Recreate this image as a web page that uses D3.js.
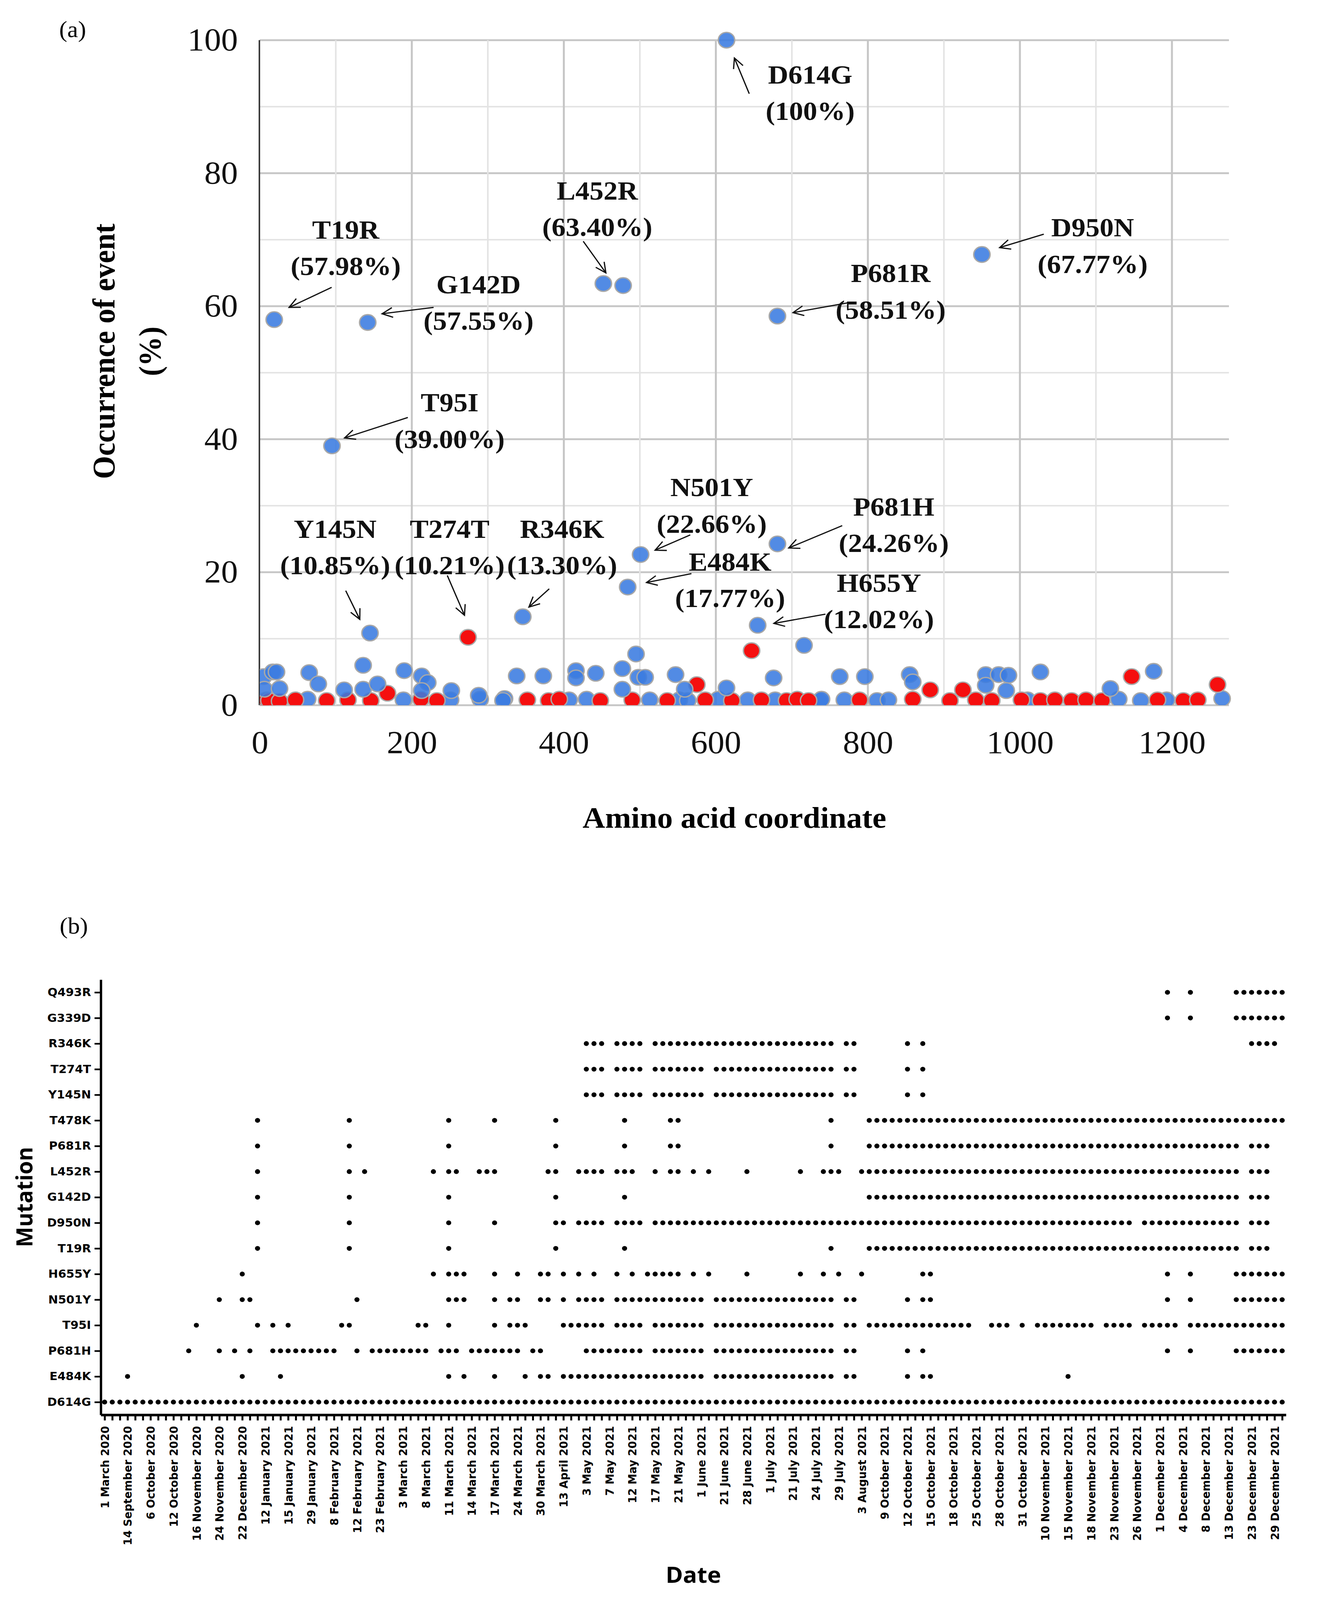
<!DOCTYPE html>
<html><head><meta charset="utf-8">
<script src="https://cdn.jsdelivr.net/npm/d3@7"></script>
<style>html,body{margin:0;padding:0;background:#fff;overflow:hidden}svg{display:block}</style>
</head><body>
<svg id="c" xmlns="http://www.w3.org/2000/svg"></svg>
<script>
// ================= Panel (a) data =================
const annNames = ["T19R","T95I","G142D","Y145N","T274T","R346K","L452R","E484K","N501Y","D614G","H655Y","P681R","P681H","D950N"];
const annPos   = [19, 95, 142, 145, 274, 346, 452, 484, 501, 614, 655, 681, 681, 950];
const annPct   = [57.98, 39.00, 57.55, 10.85, 10.21, 13.30, 63.40, 17.77, 22.66, 100, 12.02, 58.51, 24.26, 67.77];
const annSeries= ["blue","blue","blue","blue","red","blue","blue","blue","blue","blue","blue","blue","blue","blue"];
const annText2 = ["(57.98%)","(39.00%)","(57.55%)","(10.85%)","(10.21%)","(13.30%)","(63.40%)","(17.77%)","(22.66%)","(100%)","(12.02%)","(58.51%)","(24.26%)","(67.77%)"];

// other blue mutations (position, occurrence %)
const bluePos = [478, 5, 6, 17, 22, 26, 65, 77, 111, 136, 136, 155, 190, 213, 221, 213, 252, 288, 322, 338, 373, 416, 416, 442, 477, 477, 495, 498, 507, 547, 559, 614, 676, 716, 763, 796, 855, 859, 955, 955, 972, 985, 982, 1027, 1119, 1176, 1266,
                 63, 189, 251, 290, 320, 407, 430, 513, 552, 563, 603, 642, 678, 737, 739, 769, 812, 827, 1010, 1130, 1159, 1193];
const blueVal = [63.1, 4.3, 2.4, 5.0, 5.0, 2.5, 4.9, 3.2, 2.3, 6.0, 2.4, 3.2, 5.2, 4.4, 3.4, 2.2, 2.2, 1.5, 1.0, 4.4, 4.4, 5.2, 4.1, 4.8, 5.5, 2.4, 7.7, 4.2, 4.2, 4.6, 2.4, 2.6, 4.1, 9.0, 4.3, 4.3, 4.6, 3.5, 4.6, 3.0, 4.6, 4.5, 2.2, 5.0, 2.5, 5.1, 1.0,
                 0.9, 0.8, 0.8, 0.9, 0.7, 0.8, 0.9, 0.8, 0.8, 0.7, 0.9, 0.8, 0.8, 0.7, 0.9, 0.8, 0.7, 0.8, 0.8, 0.9, 0.7, 0.8];
// red mutations (position, occurrence %)
const redPos = [168, 575, 647, 882, 925, 1147, 1260,
                3, 9, 12, 26, 47, 88, 116, 146, 212, 233, 352, 380, 394, 448, 490, 536, 586, 621, 660, 693, 707, 722, 789, 859, 908, 942, 963, 1002, 1027, 1046, 1068, 1087, 1108, 1181, 1215, 1234];
const redVal = [1.8, 3.1, 8.2, 2.3, 2.3, 4.3, 3.1,
                0.6, 0.8, 0.7, 0.6, 0.8, 0.7, 0.8, 0.7, 0.9, 0.7, 0.8, 0.7, 0.9, 0.7, 0.8, 0.7, 0.8, 0.7, 0.8, 0.7, 0.9, 0.7, 0.8, 0.9, 0.7, 0.8, 0.7, 0.8, 0.7, 0.8, 0.7, 0.8, 0.7, 0.8, 0.7, 0.8];

const xTicksA = [0, 200, 400, 600, 800, 1000, 1200];
const yTicksA = [0, 20, 40, 60, 80, 100];

// ================= Panel (b) data =================
const mutations = ["Q493R","G339D","R346K","T274T","Y145N","T478K","P681R","L452R","G142D","D950N","T19R","H655Y","N501Y","T95I","P681H","E484K","D614G"];
// runs of sampling-date columns (inclusive) where each mutation was observed
const presence = {
  "Q493R": [[139,139],[142,142],[148,154]],
  "G339D": [[139,139],[142,142],[148,154]],
  "R346K": [[63,65],[67,70],[72,95],[97,98],[105,105],[107,107],[150,153]],
  "T274T": [[63,65],[67,70],[72,78],[80,95],[97,98],[105,105],[107,107]],
  "Y145N": [[63,65],[67,70],[72,78],[80,95],[97,98],[105,105],[107,107]],
  "T478K": [[20,20],[32,32],[45,45],[51,51],[59,59],[68,68],[74,75],[95,95],[100,154]],
  "P681R": [[20,20],[32,32],[45,45],[59,59],[68,68],[74,75],[95,95],[100,148],[150,152]],
  "L452R": [[20,20],[32,32],[34,34],[43,43],[45,46],[49,51],[58,59],[62,65],[67,69],[72,72],[74,75],[77,77],[79,79],[84,84],[91,91],[94,96],[99,148],[150,152]],
  "G142D": [[20,20],[32,32],[45,45],[59,59],[68,68],[100,148],[150,152]],
  "D950N": [[20,20],[32,32],[45,45],[51,51],[59,60],[62,65],[67,70],[72,134],[136,148],[150,152]],
  "T19R":  [[20,20],[32,32],[45,45],[59,59],[68,68],[95,95],[100,148],[150,152]],
  "H655Y": [[18,18],[43,43],[45,47],[51,51],[54,54],[57,58],[60,60],[62,62],[64,64],[67,67],[69,69],[71,75],[77,77],[79,79],[84,84],[91,91],[94,94],[96,96],[99,99],[107,108],[139,139],[142,142],[148,154]],
  "N501Y": [[15,15],[18,19],[33,33],[45,47],[51,51],[53,54],[57,58],[60,60],[62,65],[67,78],[80,95],[97,98],[105,105],[107,108],[139,139],[142,142],[148,154]],
  "T95I":  [[12,12],[20,20],[22,22],[24,24],[31,32],[41,42],[45,45],[51,51],[53,55],[60,65],[67,70],[72,78],[80,95],[97,98],[100,113],[116,118],[120,120],[122,129],[131,134],[136,140],[142,154]],
  "P681H": [[11,11],[15,15],[17,17],[19,19],[22,30],[33,33],[35,42],[44,46],[48,54],[56,57],[63,70],[72,78],[80,95],[97,98],[105,105],[107,107],[139,139],[142,142],[148,154]],
  "E484K": [[3,3],[18,18],[23,23],[45,45],[47,47],[51,51],[55,55],[57,58],[60,78],[80,95],[97,98],[105,105],[107,108],[126,126]],
  "D614G": [[0,154]]
};
const nDates = 155;          // number of sampling-date columns
const labelEvery = 3;        // one date label every third column
const dateLabels = ["1 March 2020","14 September 2020","6 October 2020","12 October 2020","16 November 2020","24 November 2020","22 December 2020",
 "12 January 2021","15 January 2021","29 January 2021","8 February 2021","12 February 2021","23 February 2021","3 March 2021","8 March 2021",
 "11 March 2021","14 March 2021","17 March 2021","24 March 2021","30 March 2021","13 April 2021","3 May 2021","7 May 2021","12 May 2021",
 "17 May 2021","21 May 2021","1 June 2021","21 June 2021","28 June 2021","1 July 2021","21 July 2021","24 July 2021","29 July 2021",
 "3 August 2021","9 October 2021","12 October 2021","15 October 2021","18 October 2021","25 October 2021","28 October 2021","31 October 2021",
 "10 November 2021","15 November 2021","18 November 2021","23 November 2021","26 November 2021","1 December 2021","4 December 2021",
 "8 December 2021","13 December 2021","23 December 2021","29 December 2021"];

// ================= layout (pixels) =================
const W = 3397, H = 4304;
const annLayout = {
  "T19R":  {tx:885,  ty:617,  a:[849,773,740,827]},
  "T95I":  {tx:1151, ty:1082, a:[1044,1123,882,1178]},
  "G142D": {tx:1225, ty:764,  a:[1110,827,978,844]},
  "Y145N": {tx:858,  ty:1422, a:[885,1589,921,1666]},
  "T274T": {tx:1151, ty:1422, a:[1145,1548,1189,1655]},
  "R346K": {tx:1439, ty:1422, a:[1406,1584,1354,1633]},
  "L452R": {tx:1529, ty:512,  a:[1493,649,1551,734]},
  "E484K": {tx:1869, ty:1510, a:[1770,1543,1655,1567]},
  "N501Y": {tx:1822, ty:1310, a:[1767,1439,1677,1480]},
  "D614G": {tx:2074, ty:200,  a:[1918,252,1880,156]},
  "H655Y": {tx:2250, ty:1567, a:[2113,1652,1981,1677]},
  "P681R": {tx:2280, ty:734,  a:[2173,814,2030,841]},
  "P681H": {tx:2288, ty:1362, a:[2156,1414,2019,1474]},
  "D950N": {tx:2797, ty:611,  a:[2672,630,2559,666]}
};

// fit the whole figure in the viewport
const vw = window.innerWidth || W, vh = window.innerHeight || H;
const svg = d3.select("#c").attr("width", vw).attr("height", vh)
  .attr("viewBox", `0 0 ${W} ${H}`).attr("preserveAspectRatio","none");
svg.append("rect").attr("width",W).attr("height",H).attr("fill","#fff");
const SERIF = "'Liberation Serif','Times New Roman',serif";
const SANS = "'DejaVu Sans',Verdana,sans-serif";

// ---------- Panel (a) ----------
const xA = d3.scaleLinear().domain([0,1275]).range([665,3146]);
const yA = d3.scaleLinear().domain([0,100]).range([1897,108]);

const grid = svg.append("g");
d3.range(0,101,10).forEach(v=>{
  grid.append("line").attr("x1",xA(0)).attr("x2",xA(1275)).attr("y1",yA(v)).attr("y2",yA(v))
    .attr("stroke", v%20===0 ? "#c6c6c6" : "#e3e3e3").attr("stroke-width", v%20===0?5:4);
});
d3.range(100,1201,100).forEach(v=>{
  grid.append("line").attr("y1",yA(0)).attr("y2",yA(100)).attr("x1",xA(v)).attr("x2",xA(v))
    .attr("stroke", v%200===0 ? "#c6c6c6" : "#e3e3e3").attr("stroke-width", v%200===0?5:4);
});
svg.append("line").attr("x1",xA(0)-1).attr("x2",xA(0)-1).attr("y1",yA(100)).attr("y2",yA(0))
  .attr("stroke","#3a3a3a").attr("stroke-width",4);

const axL = svg.append("g").attr("transform",`translate(${xA(0)},0)`)
  .call(d3.axisLeft(yA).tickValues(yTicksA).tickSize(0).tickPadding(56).tickFormat(d3.format("d")));
axL.select(".domain").remove();
axL.selectAll("text").attr("font-family",SERIF).attr("font-size",86).attr("fill","#111");
const axB = svg.append("g").attr("transform",`translate(0,${yA(0)})`)
  .call(d3.axisBottom(xA).tickValues(xTicksA).tickSize(0).tickPadding(68).tickFormat(d3.format("d")));
axB.select(".domain").remove();
axB.selectAll("text").attr("font-family",SERIF).attr("font-size",86).attr("fill","#111");

svg.append("clipPath").attr("id","clipA").append("rect")
  .attr("x",xA(0)).attr("y",40).attr("width",xA(1275)-xA(0)+40).attr("height",yA(0)-40);
const marks = svg.append("g").attr("clip-path","url(#clipA)");

const pts = [];
bluePos.forEach((p,i)=>pts.push({p, v:blueVal[i], s:"blue"}));
redPos.forEach((p,i)=>pts.push({p, v:redVal[i], s:"red"}));
annPos.forEach((p,i)=>pts.push({p, v:annPct[i], s:annSeries[i]}));
const rank = d => d.s==="red" ? 1 : (d.v<1.2 ? 0 : 2);
pts.sort((a,b)=>rank(a)-rank(b));
marks.selectAll("circle.pt").data(pts).join("circle").attr("class","pt")
  .attr("cx",d=>xA(d.p)).attr("cy",d=>yA(d.v)).attr("r",21)
  .attr("fill",d=>d.s==="red" ? "#f50f0f" : "#3a7be0")
  .attr("fill-opacity",d=>d.s==="red" ? 1 : 0.88)
  .attr("stroke","#a8a8a8").attr("stroke-width",3.5);

const ann = svg.append("g").attr("font-family",SERIF).attr("font-weight","bold").attr("font-size",72).attr("fill","#111").attr("text-anchor","middle");
annNames.forEach((n,i)=>{
  const L = annLayout[n];
  ann.append("text").attr("x",L.tx).attr("y",L.ty+25).text(n);
  ann.append("text").attr("x",L.tx).attr("y",L.ty+25+98).text(annText2[i]);
  const [x1,y1,x2,y2] = L.a;
  const g = svg.append("g").attr("stroke","#111").attr("stroke-width",3.2).attr("fill","none");
  g.append("line").attr("x1",x1).attr("y1",y1).attr("x2",x2).attr("y2",y2);
  const ang = Math.atan2(y1-y2, x1-x2), hl = 30, ha = 0.45;
  g.append("path").attr("d",`M${x2+hl*Math.cos(ang+ha)},${y2+hl*Math.sin(ang+ha)}L${x2},${y2}L${x2+hl*Math.cos(ang-ha)},${y2+hl*Math.sin(ang-ha)}`);
});

svg.append("text").attr("x",186).attr("y",100).attr("text-anchor","middle").attr("font-family",SERIF).attr("font-size",62).text("(a)");
svg.append("text").attr("transform","translate(293,945) rotate(-90)").attr("text-anchor","middle")
  .attr("font-family",SERIF).attr("font-weight","bold").attr("font-size",80).text("Occurrence of event");
svg.append("text").attr("transform","translate(411,945) rotate(-90)").attr("text-anchor","middle")
  .attr("font-family",SERIF).attr("font-weight","bold").attr("font-size",80).text("(%)");
svg.append("text").attr("x",1880).attr("y",2227).attr("text-anchor","middle")
  .attr("font-family",SERIF).attr("font-weight","bold").attr("font-size",80).text("Amino acid coordinate");

// ---------- Panel (b) ----------
svg.append("text").attr("x",189).attr("y",2511).attr("text-anchor","middle").attr("font-family",SERIF).attr("font-size",62).text("(b)");

const cols = d3.range(nDates);
const xB = d3.scalePoint().domain(cols).range([258,3292]).padding(0.5);
const yB = d3.scalePoint().domain(mutations).range([2635,3806]).padding(0.5);

const dots = [];
mutations.forEach(m=>presence[m].forEach(([a,b])=>{ for(let c=a;c<=b;c++) dots.push({m,c}); }));
svg.append("g").selectAll("circle").data(dots).join("circle")
  .attr("cx",d=>xB(d.c)).attr("cy",d=>yB(d.m)).attr("r",6.5).attr("fill","#000");

const axYB = svg.append("g").attr("transform","translate(258,0)")
  .call(d3.axisLeft(yB).tickSize(16).tickSizeOuter(0).tickPadding(9));
axYB.select(".domain").attr("stroke","#000").attr("stroke-width",6);
axYB.selectAll(".tick line").attr("stroke","#000").attr("stroke-width",4.5);
axYB.selectAll("text").attr("font-family",SANS).attr("font-weight","bold").attr("font-size",30).attr("fill","#000");

const axXB = svg.append("g").attr("transform","translate(0,3806)")
  .call(d3.axisBottom(xB).tickSize(15).tickSizeOuter(0)
    .tickFormat(i => i % labelEvery === 0 ? (dateLabels[i/labelEvery] || "") : ""));
axXB.select(".domain").attr("stroke","#000").attr("stroke-width",7);
axXB.selectAll(".tick line").attr("stroke","#000").attr("stroke-width",5);
axXB.selectAll("text").attr("font-family",SANS).attr("font-weight","bold").attr("font-size",29).attr("fill","#000")
  .attr("transform","rotate(-90)").attr("text-anchor","end").attr("x",-30).attr("y",0).attr("dy","0.36em");

svg.append("text").attr("transform","translate(83,3220) rotate(-90)").attr("text-anchor","middle")
  .attr("font-family","'Open Sans',sans-serif").attr("font-weight","bold").attr("font-size",58).text("Mutation");
svg.append("text").attr("x",1775).attr("y",4258).attr("text-anchor","middle")
  .attr("font-family","'Open Sans',sans-serif").attr("font-weight","bold").attr("font-size",60).text("Date");
</script>
</body></html>
